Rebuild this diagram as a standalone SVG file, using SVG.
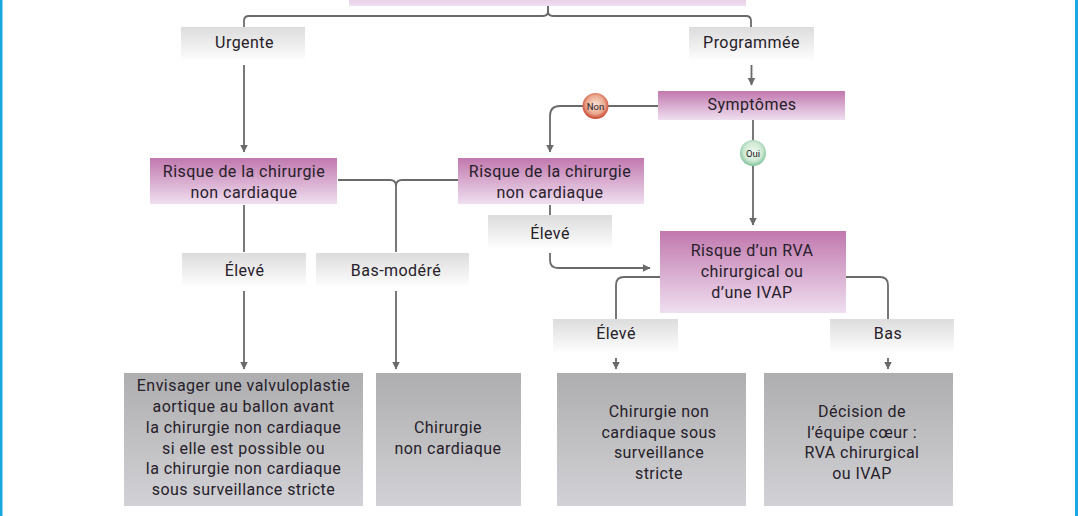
<svg xmlns="http://www.w3.org/2000/svg" width="1078" height="516" viewBox="0 0 1078 516">
<style>
text{font-family:"Roboto","Liberation Sans",sans-serif;font-size:16px;fill:#262029;text-anchor:middle;letter-spacing:.45px}
.c{fill:none;stroke:#6a6a6a;stroke-width:1.8}
.a{fill:none;stroke:#6a6a6a;stroke-width:1.8;marker-end:url(#ah)}
.b text{font-size:9.500px;font-weight:400;letter-spacing:0}
</style>
<defs>
<linearGradient id="p" x1="0" y1="0" x2="0" y2="1"><stop offset="0" stop-color="#c178ae"/><stop offset="1" stop-color="#efdff0"/></linearGradient>
<linearGradient id="g" x1="0" y1="0" x2="0" y2="1"><stop offset="0" stop-color="#dcdcdc"/><stop offset="1" stop-color="#fdfdfd"/></linearGradient>
<linearGradient id="d" x1="0" y1="0" x2="0" y2="1"><stop offset="0" stop-color="#aeaeb0"/><stop offset="1" stop-color="#d2d2d6"/></linearGradient>
<radialGradient id="r" cx=".5" cy=".45" r=".55"><stop offset="0" stop-color="#f9e3d6"/><stop offset=".65" stop-color="#eba88e"/><stop offset="1" stop-color="#c8402c"/></radialGradient>
<radialGradient id="v" cx=".5" cy=".45" r=".55"><stop offset="0" stop-color="#f0f8f0"/><stop offset=".65" stop-color="#cfe9d4"/><stop offset="1" stop-color="#7fc39a"/></radialGradient>
<marker id="ah" markerUnits="userSpaceOnUse" markerWidth="9" markerHeight="9" refX="7.500" refY="4.500" orient="auto"><path d="M0 0.500L8 4.500L0 8.500Z" fill="#6a6a6a"/></marker>
</defs>
<rect width="1078" height="516" fill="#fff"/>
<rect x="0" y="0" width="2.500" height="516" fill="#1aa7e0"/>
<rect x="1075" y="0" width="3" height="516" fill="#1aa7e0"/>
<g id="connectors">
<path class="c" d="M548 6V11Q548 16 543 16H249Q244 16 244 21V27"/>
<path class="c" d="M548 6V11Q548 16 553 16H746Q751 16 751 21V27"/>
<path class="a" d="M244 65V152"/>
<path class="a" d="M751.500 65V85"/>
<path class="a" d="M658 106H560Q550 106 550 116V152"/>
<path class="a" d="M753 120V225"/>
<path class="c" d="M338 180H390Q396 180 396 186V252"/>
<path class="c" d="M458 180H402Q396 180 396 186"/>
<path class="c" d="M244 205V252"/>
<path class="c" d="M550 205V215"/>
<path class="a" d="M550 253V260Q550 268 558 268H650"/>
<path class="a" d="M244 291V369"/>
<path class="a" d="M396 291V369"/>
<path class="c" d="M660 277H624Q616 277 616 285V320"/>
<path class="c" d="M846 277H880Q888 277 888 285V320"/>
<path class="a" d="M616 358V369"/>
<path class="a" d="M888 358V369"/>
</g>
<g id="top"><rect x="349" y="-40" width="397" height="46" fill="url(#p)"/></g>
<g id="urgente"><rect x="181" y="27" width="124" height="33" fill="url(#g)"/><text x="244.500" y="47.500">Urgente</text></g>
<g id="programmee"><rect x="689" y="27" width="125" height="33" fill="url(#g)"/><text x="751.500" y="47.500">Programmée</text></g>
<g id="symptomes"><rect x="658" y="91" width="187" height="29" fill="url(#p)"/><text x="752" y="109.500">Symptômes</text></g>
<g id="non" class="b"><circle cx="595.500" cy="106" r="13" fill="url(#r)"/><text x="595.500" y="109.500">Non</text></g>
<g id="oui" class="b"><circle cx="753" cy="153" r="13" fill="url(#v)"/><text x="753" y="156.500">Oui</text></g>
<g id="risque1"><rect x="150" y="158" width="187" height="46" fill="url(#p)"/><text x="244" y="177">Risque de la chirurgie</text><text x="244" y="198">non cardiaque</text></g>
<g id="risque2"><rect x="458" y="158" width="186" height="46" fill="url(#p)"/><text x="550" y="177">Risque de la chirurgie</text><text x="550" y="198">non cardiaque</text></g>
<g id="eleve-mid"><rect x="488" y="215" width="124" height="33" fill="url(#g)"/><text x="550" y="239">Élevé</text></g>
<g id="rva"><rect x="660" y="231" width="186" height="82" fill="url(#p)"/><text x="752" y="256">Risque d’un RVA</text><text x="752" y="277">chirurgical ou</text><text x="752" y="298">d’une IVAP</text></g>
<g id="eleve-left"><rect x="182" y="253" width="124" height="33" fill="url(#g)"/><text x="244.500" y="276">Élevé</text></g>
<g id="bas-modere"><rect x="316" y="253" width="153" height="33" fill="url(#g)"/><text x="396" y="276">Bas-modéré</text></g>
<g id="eleve-right"><rect x="553" y="319" width="125" height="33" fill="url(#g)"/><text x="616" y="339">Élevé</text></g>
<g id="bas"><rect x="830" y="319" width="124" height="33" fill="url(#g)"/><text x="888" y="339">Bas</text></g>
<g id="r1"><rect x="124" y="373" width="239" height="133" fill="url(#d)"/><text x="243.500" y="391">Envisager une valvuloplastie</text><text x="243.500" y="412">aortique au ballon avant</text><text x="243.500" y="433">la chirurgie non cardiaque</text><text x="243.500" y="454">si elle est possible ou</text><text x="243.500" y="474">la chirurgie non cardiaque</text><text x="243.500" y="495">sous surveillance stricte</text></g>
<g id="r2"><rect x="376" y="373" width="145" height="133" fill="url(#d)"/><text x="448" y="433">Chirurgie</text><text x="448" y="454">non cardiaque</text></g>
<g id="r3"><rect x="557" y="373" width="189" height="133" fill="url(#d)"/><text x="659" y="417">Chirurgie non</text><text x="659" y="438">cardiaque sous</text><text x="659" y="458">surveillance</text><text x="659" y="479">stricte</text></g>
<g id="r4"><rect x="764" y="373" width="189" height="133" fill="url(#d)"/><text x="862" y="417">Décision de</text><text x="862" y="438">l’équipe cœur :</text><text x="862" y="458">RVA chirurgical</text><text x="862" y="479">ou IVAP</text></g>
</svg>
